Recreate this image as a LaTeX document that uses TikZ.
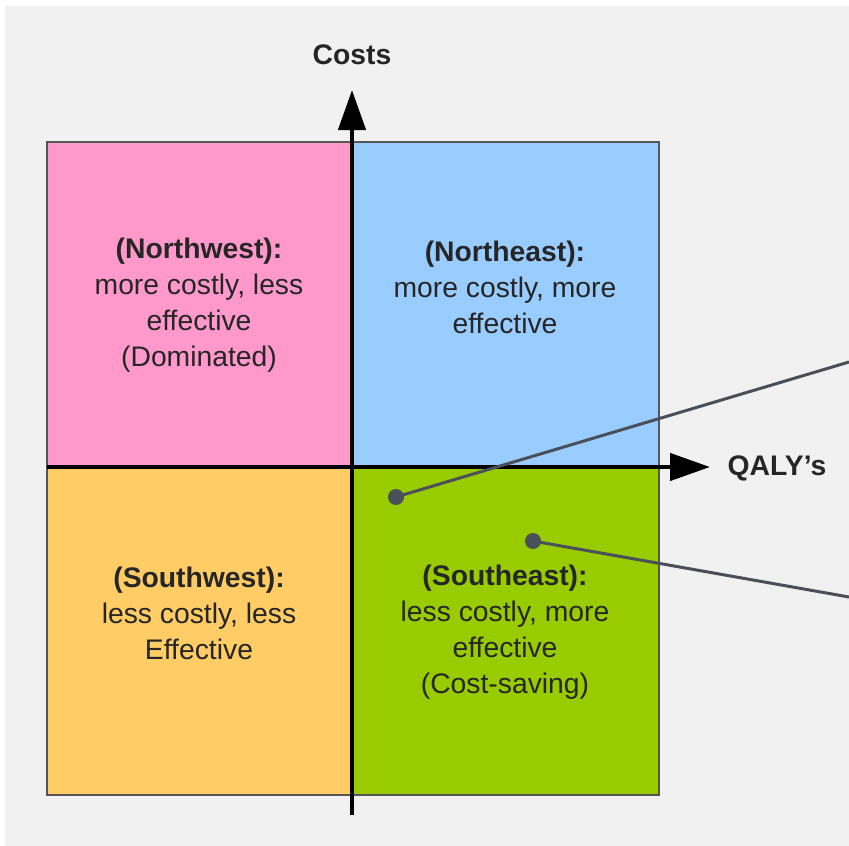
\documentclass[tikz,border=0pt]{standalone}
\usepackage{fontspec}
\setmainfont{Liberation Sans}
\usetikzlibrary{arrows.meta}
\definecolor{bgc}{HTML}{F1F1F1}
\definecolor{nwc}{HTML}{FF99CC}
\definecolor{nec}{HTML}{99CCFF}
\definecolor{swc}{HTML}{FFCC66}
\definecolor{sec}{HTML}{99CC00}
\definecolor{edgec}{HTML}{555555}
\definecolor{ptc}{HTML}{4A5059}
\tikzset{
  quad/.style={draw=edgec, line width=2pt, inner sep=0pt},
  qtext/.style={align=center, font=\fontsize{28.3}{36}\selectfont, text=black!85},
  axislbl/.style={font=\fontsize{28.3}{30}\selectfont\bfseries, text=black!85},
  axisline/.style={line width=4.5pt, -{Triangle[length=40pt,width=27pt]}},
  dot/.style={circle, fill=ptc, inner sep=0pt, minimum size=16pt},
  pointer/.style={draw=ptc, line width=3pt}
}
\begin{document}
\begin{tikzpicture}[x=1pt,y=-1pt]
\useasboundingbox (0,0) rectangle (849,846);
\fill[white] (0,0) rectangle (849,846);
\fill[bgc] (5,6) rectangle (849,846);
% quadrants
\filldraw[quad, fill=nwc] (47,142) rectangle (352,467);
\filldraw[quad, fill=nec] (352,142) rectangle (659,467);
\filldraw[quad, fill=swc] (47,467) rectangle (352,795);
\filldraw[quad, fill=sec] (352,467) rectangle (659,795);
% texts
\node[qtext] (nw) at (199,305) {\textbf{(Northwest):}\\more costly, less\\effective\\(Dominated)};
\node[qtext] (ne) at (505,287) {\textbf{(Northeast):}\\more costly, more\\effective};
\node[qtext] (sw) at (199,613) {\textbf{(Southwest):}\\less costly, less\\Effective};
\node[qtext] (se) at (505,632) {\textbf{(Southeast):}\\less costly, more\\effective\\(Cost-saving)};
% axes
\coordinate (vb) at (352,815);
\coordinate (vt) at (352,90);
\coordinate (hl) at (47,467);
\coordinate (hr) at (710,467);
\draw[axisline] (vb) -- (vt);
\draw[axisline] (hl) -- (hr);
\node[axislbl] (costs) at (352,55) {Costs};
\node[axislbl] (qaly) at (777,468) {QALY’s};
% pointers
\node[dot] (d1) at (396,497) {};
\node[dot] (d2) at (533,541) {};
\coordinate (e1) at (849,362);
\coordinate (e2) at (849,597);
\draw[pointer] (d1.center) -- (e1);
\draw[pointer] (d2.center) -- (e2);
\end{tikzpicture}
\end{document}
